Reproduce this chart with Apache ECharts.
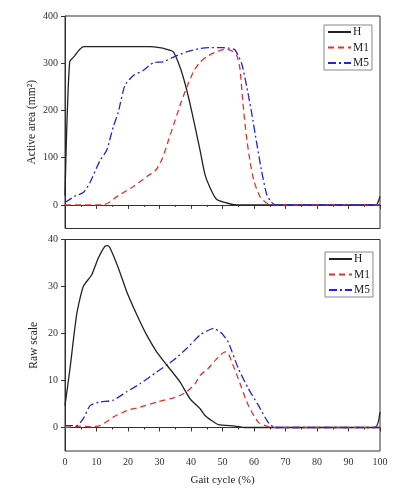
<!DOCTYPE html>
<html>
<head>
<meta charset="utf-8">
<script src="https://cdn.jsdelivr.net/npm/echarts@6/dist/echarts.min.js"></script>
<style>
html,body{margin:0;padding:0;background:#fff;}
#c{width:395px;height:489px;}
</style>
</head>
<body>
<div id="c"></div>
<script>
// ---- Data ----
const seriesNames = ['H', 'M1', 'M5'];
const xTicks = [0, 10, 20, 30, 40, 50, 60, 70, 80, 90, 100];
const areaTicks = [0, 100, 200, 300, 400];
const rawTicks = [0, 10, 20, 30, 40];

// Active area (mm^2)
const areaH_x = [0, 0.5, 1.5, 3, 4.5, 6, 10, 20, 27, 30, 32, 34.4, 36.5, 38.1, 39.7, 41.3, 42.9, 44.4, 46, 48.1, 51.3, 54.5, 60, 98.8, 99.5, 100];
const areaH_y = [20, 150, 303, 315, 328, 335, 335, 335, 335, 333, 330, 324, 292, 257, 214, 165, 115, 65, 37, 12, 4, 0, 0, 0, 8, 18];
const areaM1_x = [0, 12, 14, 17, 22, 26, 29, 31, 33, 35, 37, 39, 41, 43, 45, 48, 51, 53, 54.5, 55.5, 56.5, 57.5, 58.7, 60, 62, 64, 66, 100];
const areaM1_y = [0, 0, 5, 20, 40, 60, 75, 100, 140, 180, 220, 255, 285, 303, 314, 324, 330, 326, 317, 290, 215, 150, 94, 50, 16, 4, 0, 0];
const areaM5_x = [0, 3, 5.8, 7.9, 11.1, 13.2, 15.3, 16.9, 19, 21.7, 24.9, 28, 31.2, 34.4, 38.6, 42.9, 46, 50, 52, 54, 56.1, 57.7, 59.3, 60.9, 62.4, 64, 65.5, 67, 100];
const areaM5_y = [5, 18, 26, 47, 94, 115, 165, 196, 253, 274, 285, 301, 303, 313, 324, 331, 333, 333, 332, 328, 299, 250, 193, 129, 72, 23, 6, 0, 0];

// Raw scale
const rawH_x = [0, 1.6, 3.7, 5.8, 8.5, 10.6, 12.7, 13.5, 14.3, 16.9, 19.6, 22.8, 25.9, 29.1, 32.3, 36.5, 39.7, 42.9, 44.4, 46.5, 48.7, 54, 57, 98.4, 100];
const rawH_y = [4.7, 12.6, 24, 30, 32.5, 36.1, 38.6, 38.7, 38.2, 34, 28.9, 24, 19.7, 16.1, 13.3, 9.7, 6.1, 4, 2.6, 1.5, 0.6, 0.3, 0, 0, 3.3];
const rawM1_x = [0, 5, 8, 11.1, 15.3, 19.6, 23.8, 29.1, 35.4, 38.6, 41.3, 42.9, 45.5, 48, 50.8, 51.8, 53.5, 55, 58.2, 61.4, 64.5, 67, 100];
const rawM1_y = [0, 0.3, 0.2, 0.4, 2.2, 3.6, 4.3, 5.4, 6.5, 7.6, 9.3, 11.1, 12.6, 14.5, 16.1, 15.8, 13, 10.4, 4.7, 1.1, 0.2, 0, 0];
const rawM5_x = [0, 3.7, 5.8, 8, 11.1, 15.3, 19.6, 23.8, 29.1, 34.4, 38.6, 42.9, 45, 47.1, 49.5, 51.8, 55, 58.2, 61.4, 64.5, 66.7, 100];
const rawM5_y = [0.4, 0.4, 1.9, 4.7, 5.4, 5.8, 7.6, 9.3, 11.8, 14.3, 16.8, 19.7, 20.5, 21.1, 20.2, 18.2, 12.6, 8.3, 4.7, 1.1, 0, 0];

// ---- Chart ----
const zip = (xs, ys) => xs.map((x, i) => [x, ys[i]]);
const FONT = '"Liberation Serif", "DejaVu Serif", serif';
const AX = '#333';
const colors = ['#222222', '#e8302c', '#2323e0'];
const dashes = ['solid', [6, 4], [8, 3, 2, 3]];

function xAx(gridIndex, showLabel) {
  return {
    type: 'value', gridIndex, min: 0, max: 100, interval: 10,
    axisLine: { show: true, lineStyle: { color: AX, width: 1 } },
    axisTick: { show: true, inside: false, length: 4, lineStyle: { color: AX } },
    minorTick: { show: true, splitNumber: 2, length: 2, lineStyle: { color: AX } },
    splitLine: { show: false },
    axisLabel: { show: showLabel, color: '#333', fontFamily: FONT, fontSize: 10, margin: 6,
      customValues: xTicks },
    name: showLabel ? 'Gait cycle (%)' : '',
    nameLocation: 'middle', nameGap: 24, nameMoveOverlap: false,
    nameTextStyle: { color: '#222', fontFamily: FONT, fontSize: 11 }
  };
}
function yAx(gridIndex, min, max, ticks, name, gap) {
  return {
    type: 'value', gridIndex, min, max,
    axisLine: { show: true, lineStyle: { color: AX, width: 1 } },
    axisTick: { show: true, length: 4, lineStyle: { color: AX }, customValues: ticks },
    axisLabel: { color: '#333', fontFamily: FONT, fontSize: 10, margin: 7, customValues: ticks },
    splitLine: { show: false },
    name, nameLocation: 'middle', nameGap: gap, nameMoveOverlap: false,
    nameTextStyle: { color: '#222', fontFamily: FONT, fontSize: 11.5 }
  };
}
function mk(name, data, i, axisIndex) {
  return {
    type: 'line', name, data, xAxisIndex: axisIndex, yAxisIndex: axisIndex,
    symbol: 'none', smooth: 0.2, animation: false,
    lineStyle: { color: colors[i], width: 1.3, type: dashes[i] },
    itemStyle: { color: colors[i] }
  };
}
function legend(left, top) {
  return {
    data: seriesNames, orient: 'vertical', left, top,
    borderColor: '#888', borderWidth: 1, borderRadius: 0,
    padding: [1, 3, 1, 3], itemGap: 3.5, itemWidth: 23, itemHeight: 10,
    itemStyle: { opacity: 0 },
    textStyle: { fontFamily: FONT, fontSize: 11.5, lineHeight: 10, color: '#222', padding: [0, 0, 0, -3] },
    selectedMode: false
  };
}

const chart = echarts.init(document.getElementById('c'), null, { renderer: 'canvas' });
chart.setOption({
  backgroundColor: '#fff',
  animation: false,
  grid: [
    { left: 65, top: 16, width: 315, height: 212.5, show: true, borderColor: AX, borderWidth: 1, backgroundColor: 'transparent' },
    { left: 65, top: 239.5, width: 315, height: 211.5, show: true, borderColor: AX, borderWidth: 1, backgroundColor: 'transparent' }
  ],
  legend: [legend(324, 25), legend(325, 252)],
  xAxis: [xAx(0, false), xAx(1, true)],
  yAxis: [yAx(0, -50, 400, areaTicks, 'Active area (mm²)', 27), yAx(1, -5, 40, rawTicks, 'Raw scale', 25)],
  series: [
    mk('H', zip(areaH_x, areaH_y), 0, 0),
    mk('M1', zip(areaM1_x, areaM1_y), 1, 0),
    mk('M5', zip(areaM5_x, areaM5_y), 2, 0),
    mk('H', zip(rawH_x, rawH_y), 0, 1),
    mk('M1', zip(rawM1_x, rawM1_y), 1, 1),
    mk('M5', zip(rawM5_x, rawM5_y), 2, 1)
  ]
});
</script>
</body>
</html>
